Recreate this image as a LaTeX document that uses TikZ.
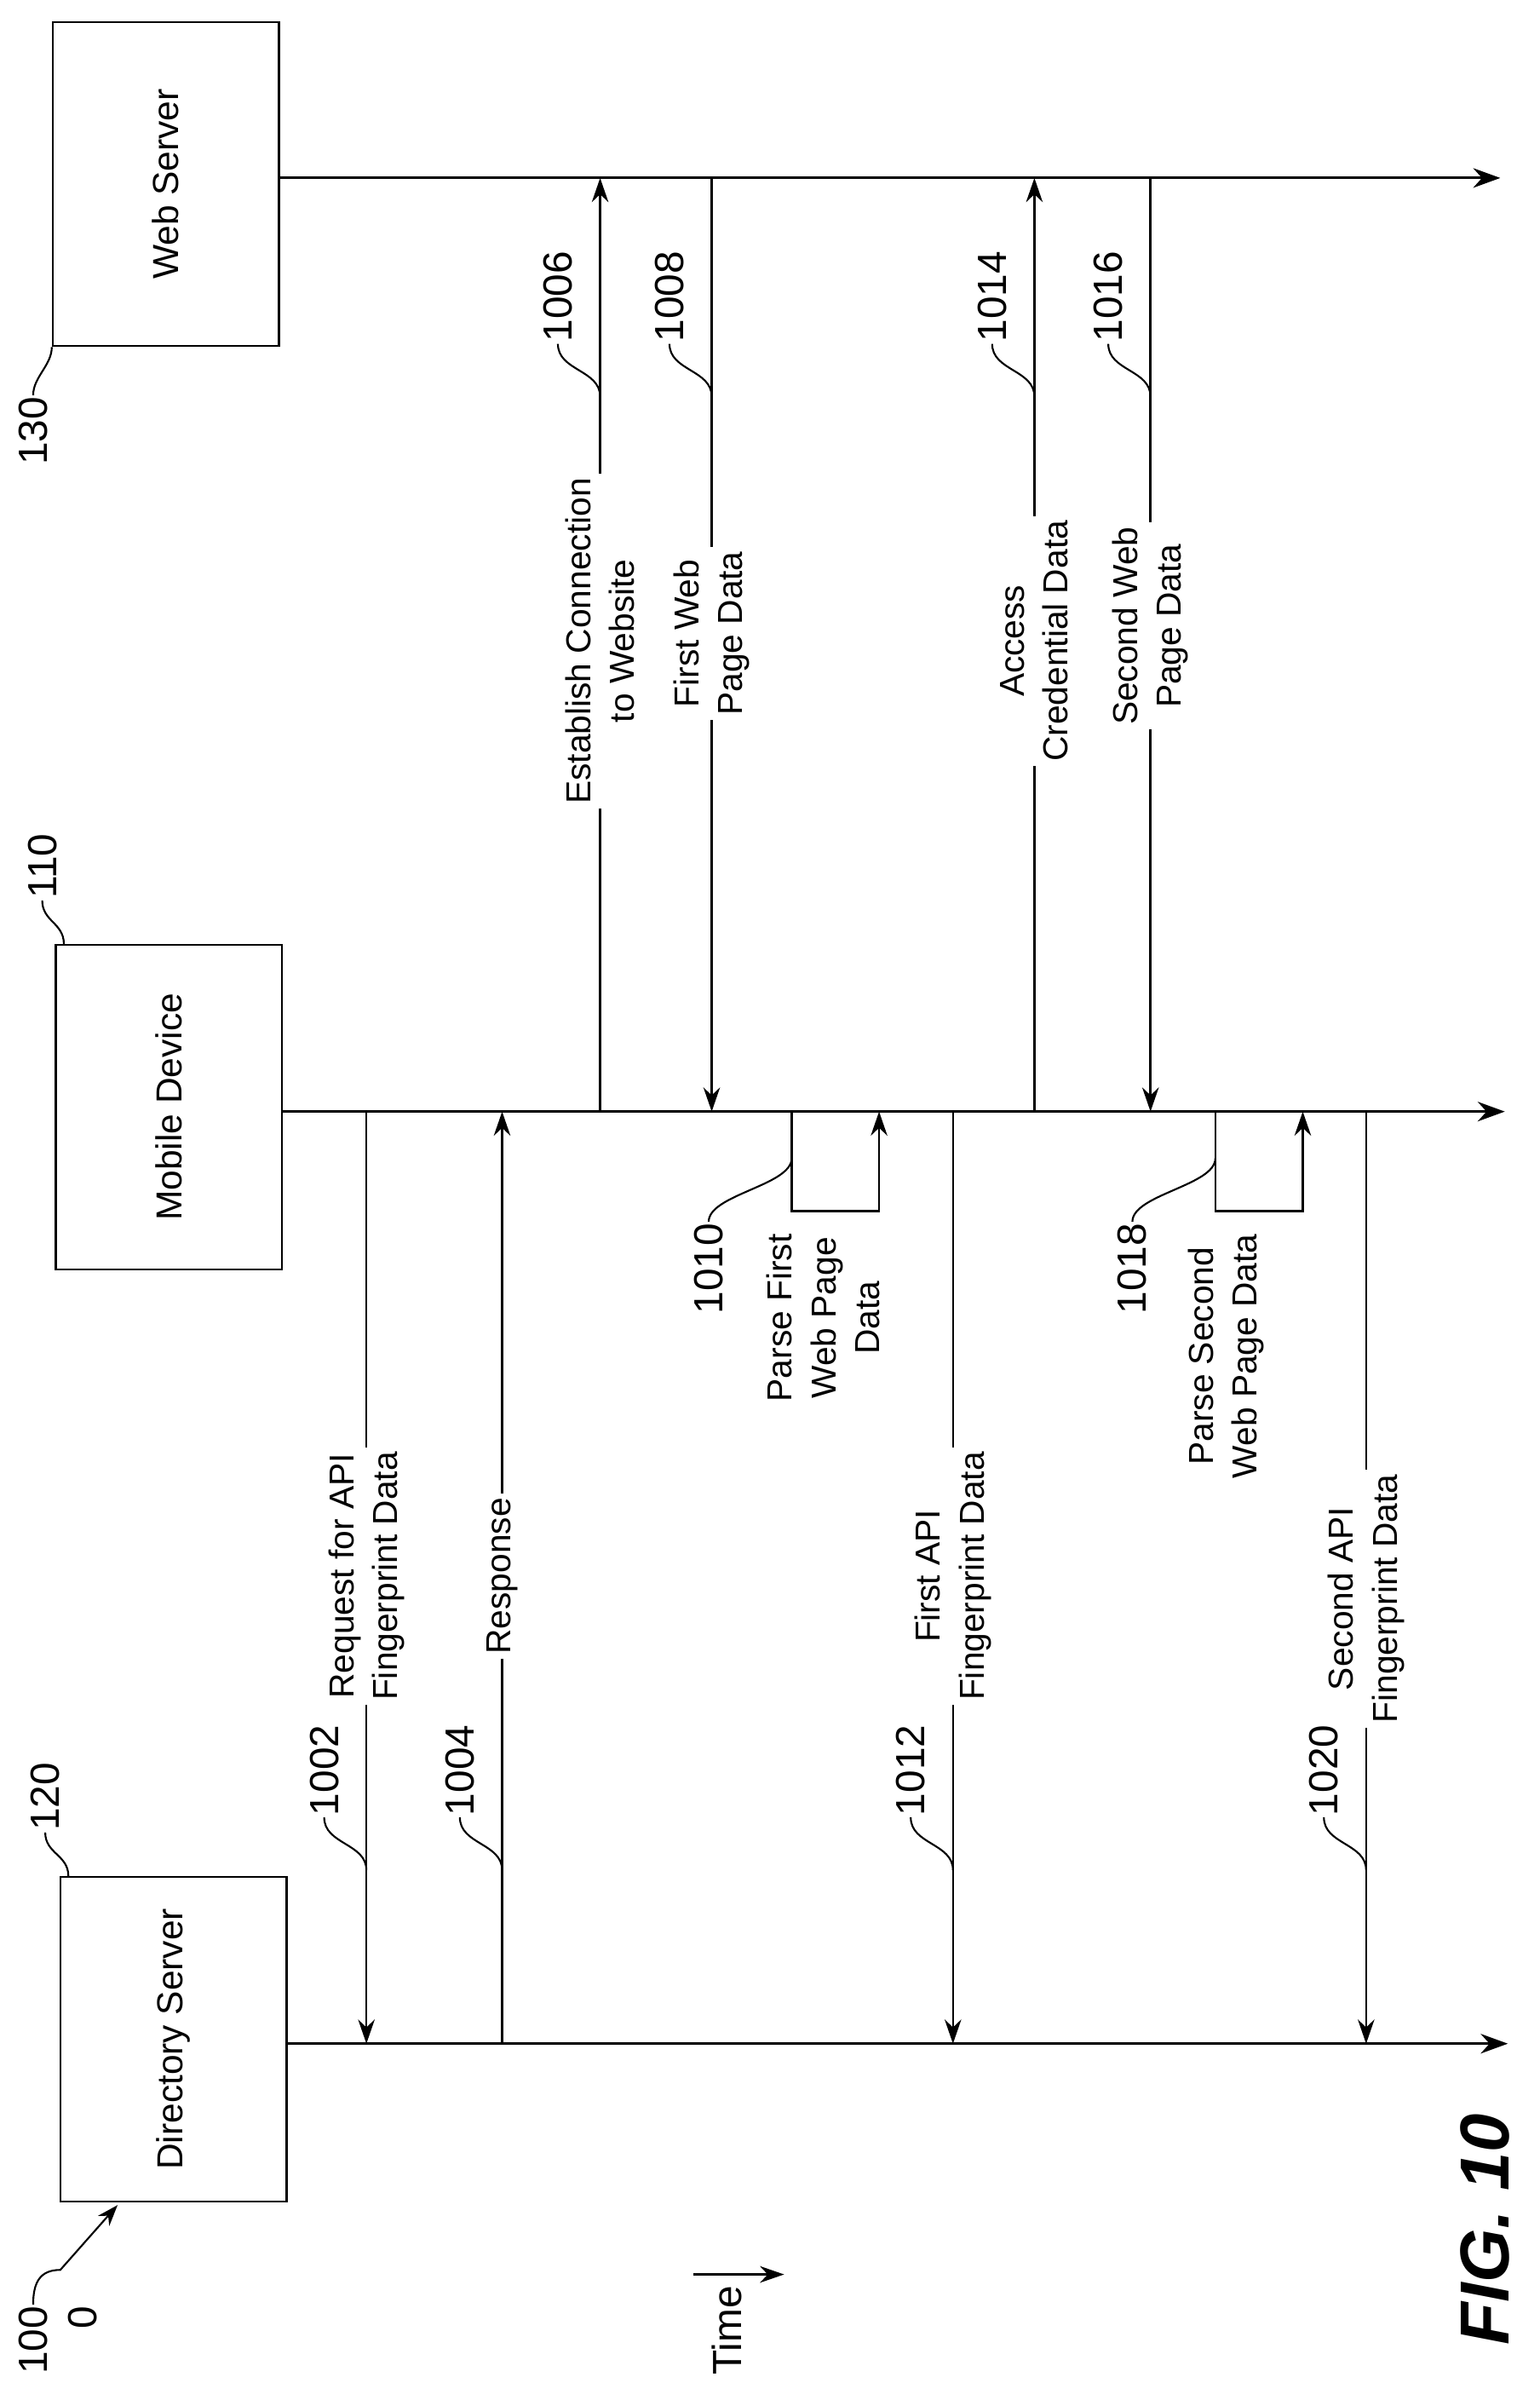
\documentclass[tikz,border=0pt]{standalone}
\usepackage{fontspec}
\setmainfont{Liberation Sans}
\usetikzlibrary{arrows.meta,calc}
\tikzset{
  box/.style={draw,line width=1.3pt,rotate=90,minimum width=215pt,minimum height=150pt,font=\fontsize{24}{26}\selectfont},
  life/.style={line width=1.6pt,-{Stealth[length=18pt,width=13pt]}},
  msg/.style={line width=1.4pt,-{Stealth[length=16pt,width=11pt]}},
  lab/.style={rotate=90,fill=white,align=center,inner sep=3pt,font=\fontsize{23}{29}\selectfont},
  num/.style={rotate=90,inner sep=1pt,font=\fontsize{27}{29}\selectfont},
  sq/.style={line width=1.2pt}
}
\begin{document}
\begin{tikzpicture}[x=1pt,y=-1pt]
  \useasboundingbox (0,0) rectangle (1021,1580);

  % boxes + lifelines
  \node (web) [box] at (110,122) {Web Server};
  \node (mob) [box] at (112,734) {Mobile Device};
  \node (dir) [box] at (115,1352) {Directory Server};
  \coordinate (webE) at (995,118);
  \coordinate (mobE) at (998,737);
  \coordinate (dirE) at (1000,1355);
  \draw[life] (web.south |- webE) -- (webE);
  \draw[life] (mob.south |- mobE) -- (mobE);
  \draw[life] (dir.south |- dirE) -- (dirE);

  % box numerals
  \node (n130) [num,anchor=east] at (22,262) {130};
  \draw[sq] (n130.east) .. controls +(0,-12) and +(0,12) .. (web.north west);
  \node (n110) [num,anchor=west] at (28,597) {110};
  \draw[sq] (n110.west) .. controls +(0,14) and +(0,-14) .. ($(mob.north east)+(6,0)$);
  \node (n120) [num,anchor=west] at (30,1215) {120};
  \draw[sq] (n120.west) .. controls +(0,14) and +(0,-14) .. ($(dir.north east)+(6,0)$);

  % messages
  \foreach \x/\ya/\yb/\t/\ty/\n/\ny in {
      243/737/1355/{Request for API\\Fingerprint Data}/1045/1002/1205,
      333/1355/737/{Response}/1045/1004/1205,
      398/737/118/{Establish Connection\\to Website}/425/1006/228,
      472/118/737/{First Web\\Page Data}/420/1008/228,
      632/737/1355/{First API\\Fingerprint Data}/1045/1012/1205,
      686/737/118/{Access\\Credential Data}/425/1014/228,
      763/118/737/{Second Web\\Page Data}/415/1016/228,
      906/737/1355/{Second API\\Fingerprint Data}/1060/1020/1205}
  {
    \coordinate (a\n) at (\x,\ya);
    \coordinate (b\n) at (\x,\yb);
    \coordinate (q\n) at (\x,\ny+35);
    \draw[msg] (a\n) -- (b\n);
    \node[lab] at (\x,\ty) {\t};
    \node (r\n) [num,anchor=west] at (\x-28,\ny) {\n};
    \draw[sq] (r\n.west) .. controls +(0,18) and +(0,-18) .. (q\n);
  }

  % self loops
  \foreach \xa/\xb/\n/\t/\tx in {
      525/583/1010/{Parse First\\Web Page\\Data}/546,
      806/864/1018/{Parse Second\\Web Page Data}/813}
  {
    \coordinate (s\n) at (\xa,737);
    \coordinate (e\n) at (\xb,737);
    \draw[msg] (s\n) -- ++(0,66) -| (e\n);
    \node (r\n) [num,anchor=east] at (\xa-55,810) {\n};
    \draw[sq] (r\n.east) .. controls +(0,-18) and +(0,18) .. (\xa,768);
    \node[lab,fill=none,anchor=east] at (\tx,815) {\t};
  }

  % time axis
  \node (t0) [num,anchor=east] at (22,1528) {100};
  \node (z) [num,anchor=east] at (55,1528) {0};
  \coordinate (tz) at (78,1462);
  \draw[sq,-{Stealth[length=14pt,width=10pt]}] (t0.east) .. controls +(0,-14) and +(-14,0) .. (40,1505) -- (tz);
  \coordinate (ta) at (460,1508);
  \coordinate (tb) at (520,1508);
  \draw[msg] (ta) -- (tb);
  \node[num,anchor=west] at (482,1576) {Time};

  \node[rotate=90,font=\fontsize{46}{48}\bfseries\itshape\selectfont] at (985,1478) {FIG. 10};
\end{tikzpicture}
\end{document}
